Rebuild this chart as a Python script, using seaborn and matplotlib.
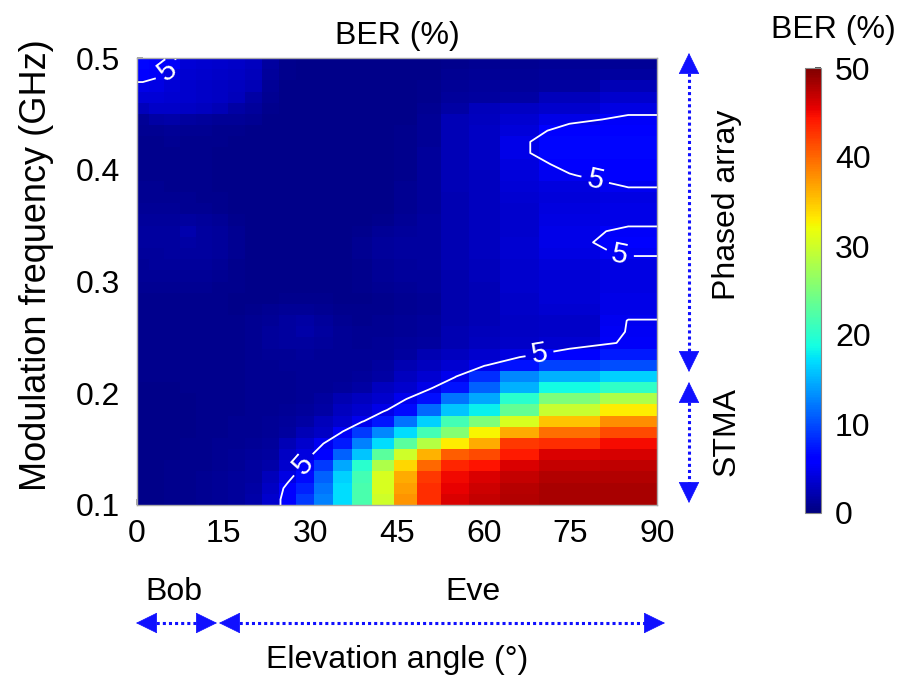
import numpy as np
import matplotlib
matplotlib.use("Agg")
import matplotlib.pyplot as plt
import seaborn as sns
from matplotlib.patches import FancyArrowPatch
from matplotlib.lines import Line2D

sns.set_theme(style="white")
plt.rcParams['font.family'] = ['Liberation Sans', 'DejaVu Sans']
plt.rcParams['text.color'] = 'black'

# ---------------- data ----------------
# elevation-angle bin edges (deg) and modulation-frequency bin edges (GHz)
elev_edges = [0, 2.01, 4.73, 7.47, 10.22, 13.00, 15.81, 18.66, 21.56, 24.52, 27.55,
              30.66, 33.88, 37.23, 40.73, 44.43, 48.38, 52.65, 57.41, 62.87, 69.64,
              80.06, 90]
freq_edges = np.round(np.linspace(0.10, 0.50, 41), 2)

# BER (%) rows listed from top (0.49-0.50 GHz) to bottom (0.10-0.11 GHz)
ber_top_to_bottom = [
    [6.5, 6.0, 5.3, 3.8, 3.6, 3.4, 3.2, 2.8, 1.5, 0.7, 0.55, 0.55, 0.5, 0.5, 0.45, 0.45, 0.55, 0.7, 0.8, 0.9, 1.0, 1.1],
    [5.75, 5.3, 4.4, 3.6, 3.4, 3.2, 3.0, 2.6, 1.3, 0.65, 0.5, 0.5, 0.45, 0.45, 0.45, 0.45, 0.55, 0.8, 1.0, 1.0, 1.2, 1.5],
    [4.6, 4.3, 3.9, 3.5, 3.3, 3.1, 2.8, 2.4, 1.1, 0.55, 0.5, 0.45, 0.45, 0.45, 0.45, 0.5, 0.65, 1.0, 1.3, 1.3, 1.5, 2.5],
    [3.8, 3.8, 3.6, 3.4, 3.2, 3.0, 2.6, 1.7, 0.9, 0.55, 0.45, 0.45, 0.45, 0.45, 0.45, 0.5, 0.7, 1.3, 1.5, 1.7, 2.6, 3.5],
    [2.6, 3.2, 3.2, 3.0, 2.8, 2.5, 1.7, 1.3, 0.7, 0.5, 0.45, 0.45, 0.4, 0.4, 0.45, 0.55, 0.9, 1.7, 2.6, 3.0, 3.5, 4.4],
    [1.1, 1.7, 1.8, 1.5, 1.3, 1.1, 1.0, 0.8, 0.55, 0.5, 0.45, 0.4, 0.4, 0.4, 0.45, 0.55, 1.0, 2.4, 2.8, 3.6, 4.5, 5.4],
    [0.8, 0.9, 1.0, 0.9, 0.8, 0.7, 0.65, 0.55, 0.5, 0.45, 0.4, 0.4, 0.4, 0.4, 0.45, 0.65, 1.1, 2.5, 3.0, 4.0, 5.8, 6.2],
    [0.7, 0.7, 0.8, 0.7, 0.7, 0.65, 0.55, 0.5, 0.45, 0.45, 0.4, 0.4, 0.4, 0.4, 0.45, 0.65, 1.1, 2.5, 3.0, 4.6, 6.5, 6.6],
    [0.7, 0.7, 0.7, 0.7, 0.65, 0.55, 0.55, 0.5, 0.45, 0.4, 0.4, 0.4, 0.4, 0.4, 0.45, 0.65, 1.2, 2.5, 3.0, 4.6, 6.5, 6.5],
    [0.65, 0.65, 0.7, 0.65, 0.65, 0.55, 0.5, 0.45, 0.45, 0.4, 0.4, 0.4, 0.4, 0.4, 0.5, 0.7, 1.2, 2.5, 3.0, 4.2, 5.5, 6.2],
    [0.7, 0.7, 0.7, 0.65, 0.65, 0.55, 0.5, 0.45, 0.45, 0.4, 0.4, 0.4, 0.4, 0.45, 0.5, 0.7, 1.2, 2.4, 2.9, 4.0, 4.9, 5.8],
    [0.8, 0.8, 0.7, 0.7, 0.65, 0.55, 0.5, 0.45, 0.45, 0.4, 0.4, 0.4, 0.45, 0.45, 0.55, 0.8, 1.3, 2.4, 2.9, 3.8, 4.2, 5.05],
    [0.9, 0.9, 0.8, 0.8, 0.7, 0.65, 0.55, 0.5, 0.45, 0.45, 0.4, 0.4, 0.45, 0.45, 0.55, 0.8, 1.3, 2.3, 2.8, 3.6, 4.1, 4.4],
    [1.0, 1.0, 1.0, 0.9, 0.8, 0.7, 0.55, 0.5, 0.45, 0.45, 0.4, 0.45, 0.45, 0.5, 0.55, 0.8, 1.3, 2.3, 2.8, 3.5, 4.2, 4.5],
    [1.3, 1.3, 1.3, 1.4, 1.3, 1.1, 0.7, 0.55, 0.5, 0.45, 0.45, 0.45, 0.5, 0.55, 0.7, 1.0, 1.4, 2.3, 2.8, 3.5, 4.3, 4.6],
    [1.4, 1.4, 1.5, 2.0, 1.5, 1.3, 0.8, 0.55, 0.5, 0.45, 0.45, 0.45, 0.5, 0.7, 1.0, 1.3, 1.5, 2.3, 2.8, 3.5, 4.5, 5.3],
    [1.4, 1.4, 1.5, 1.7, 1.5, 1.3, 0.8, 0.55, 0.5, 0.45, 0.45, 0.45, 0.5, 0.8, 1.2, 1.4, 1.5, 2.3, 2.8, 3.6, 4.6, 5.6],
    [1.3, 1.3, 1.4, 1.5, 1.4, 1.2, 0.8, 0.55, 0.5, 0.45, 0.45, 0.45, 0.5, 0.8, 1.2, 1.4, 1.5, 2.3, 2.8, 3.6, 4.4, 5.2],
    [1.1, 1.2, 1.3, 1.3, 1.3, 1.1, 0.7, 0.55, 0.5, 0.45, 0.45, 0.45, 0.5, 0.7, 1.1, 1.3, 1.4, 2.2, 2.7, 3.5, 4.0, 4.3],
    [1.0, 1.0, 1.1, 1.1, 1.0, 0.9, 0.65, 0.55, 0.5, 0.45, 0.45, 0.45, 0.5, 0.65, 1.0, 1.2, 1.3, 2.1, 2.6, 3.4, 3.9, 4.3],
    [0.8, 0.8, 0.8, 0.8, 0.8, 0.7, 0.65, 0.55, 0.5, 0.5, 0.5, 0.5, 0.55, 0.65, 0.9, 1.1, 1.2, 2.0, 2.5, 3.4, 3.9, 4.4],
    [0.7, 0.7, 0.7, 0.7, 0.7, 0.65, 0.55, 0.55, 0.55, 0.65, 0.7, 0.65, 0.55, 0.55, 0.7, 0.9, 1.1, 2.0, 2.5, 3.3, 3.8, 4.5],
    [0.7, 0.7, 0.7, 0.7, 0.7, 0.65, 0.55, 0.65, 0.8, 1.0, 1.1, 0.9, 0.7, 0.65, 0.7, 0.9, 1.1, 2.0, 2.5, 3.2, 3.6, 4.5],
    [0.7, 0.7, 0.7, 0.7, 0.7, 0.65, 0.65, 0.8, 1.1, 1.4, 1.6, 1.3, 0.9, 0.7, 0.8, 1.0, 1.2, 2.1, 2.5, 3.0, 3.2, 5.05],
    [0.7, 0.7, 0.7, 0.7, 0.7, 0.7, 0.7, 0.9, 1.2, 1.5, 1.9, 1.5, 1.0, 0.8, 0.9, 1.1, 1.3, 2.2, 2.6, 3.0, 3.3, 5.1],
    [0.7, 0.7, 0.7, 0.7, 0.7, 0.7, 0.7, 0.9, 1.2, 1.4, 1.5, 1.3, 1.0, 0.9, 1.0, 1.2, 1.5, 2.3, 2.8, 3.2, 3.6, 5.35],
    [0.65, 0.65, 0.65, 0.65, 0.7, 0.7, 0.7, 0.8, 1.0, 1.1, 1.2, 1.1, 1.0, 1.0, 1.1, 1.4, 2.3, 2.8, 3.5, 4.2, 6.3, 7.5],
    [0.65, 0.65, 0.65, 0.65, 0.7, 0.7, 0.7, 0.8, 0.9, 1.0, 1.0, 1.0, 1.0, 1.1, 1.4, 2.3, 2.8, 3.6, 4.85, 7.2, 9.5, 10.0],
    [0.65, 0.65, 0.65, 0.65, 0.65, 0.7, 0.7, 0.8, 0.9, 0.9, 1.0, 1.0, 1.1, 1.3, 1.7, 2.8, 3.6, 4.85, 8.5, 13.0, 15.0, 16.5],
    [0.55, 0.55, 0.55, 0.65, 0.65, 0.7, 0.7, 0.8, 0.8, 0.9, 1.0, 1.1, 1.3, 1.7, 2.8, 3.5, 4.6, 7.1, 11.0, 15.0, 18.7, 20.5],
    [0.55, 0.55, 0.55, 0.55, 0.65, 0.7, 0.7, 0.8, 0.8, 0.9, 1.1, 1.4, 2.3, 2.8, 3.5, 4.85, 7.0, 12.0, 14.5, 20.0, 25.0, 28.0],
    [0.55, 0.55, 0.55, 0.55, 0.65, 0.7, 0.7, 0.8, 0.9, 1.1, 1.3, 1.7, 2.8, 3.5, 4.6, 6.8, 11.5, 16.0, 18.0, 23.5, 29.5, 33.0],
    [0.55, 0.55, 0.55, 0.55, 0.65, 0.7, 0.8, 0.9, 1.0, 1.3, 1.7, 2.6, 3.5, 4.8, 7.3, 12.0, 16.5, 21.5, 25.0, 30.5, 35.0, 38.0],
    [0.55, 0.55, 0.55, 0.55, 0.65, 0.7, 0.8, 0.9, 1.1, 1.5, 2.5, 3.0, 5.1, 9.0, 13.0, 17.0, 21.5, 25.5, 32.5, 36.5, 39.5, 41.5],
    [0.55, 0.55, 0.55, 0.65, 0.7, 0.8, 0.9, 1.1, 1.3, 2.5, 3.5, 5.0, 7.5, 12.5, 17.0, 23.0, 28.5, 33.0, 36.5, 42.5, 43.0, 44.8],
    [0.55, 0.55, 0.55, 0.65, 0.7, 0.8, 1.0, 1.2, 1.5, 3.0, 4.2, 6.3, 11.0, 16.0, 23.0, 30.0, 36.0, 40.5, 41.5, 44.0, 46.0, 46.2],
    [0.55, 0.55, 0.65, 0.65, 0.7, 0.9, 1.1, 1.4, 1.8, 3.5, 5.3, 9.0, 14.5, 20.0, 28.0, 34.0, 40.0, 43.5, 44.5, 46.0, 47.0, 47.2],
    [0.55, 0.55, 0.65, 0.7, 0.8, 1.0, 1.2, 1.5, 2.6, 4.3, 6.7, 11.0, 16.5, 21.5, 30.5, 36.5, 42.5, 45.0, 46.0, 47.0, 47.7, 47.8],
    [0.55, 0.55, 0.7, 0.7, 0.9, 1.0, 1.3, 1.6, 3.0, 5.6, 8.0, 12.0, 17.0, 22.0, 30.5, 37.0, 43.0, 45.5, 46.5, 47.5, 48.2, 48.2],
    [0.55, 0.55, 0.7, 0.7, 0.9, 1.0, 1.3, 1.8, 3.5, 6.0, 9.0, 12.5, 17.0, 22.0, 30.0, 37.5, 43.0, 46.0, 47.0, 47.7, 48.2, 48.2],
]
ber = np.flipud(np.array(ber_top_to_bottom))

x_ticks = [0, 15, 30, 45, 60, 75, 90]
y_ticks = [0.1, 0.2, 0.3, 0.4, 0.5]
y_tick_labels = ['0.1', '0.2', '0.3', '0.4', '0.5']
cbar_ticks = [0, 10, 20, 30, 40, 50]
contour_levels = [5]
label_spots = [(5.8, 0.485), (79.3, 0.391), (83.6, 0.325), (69.7, 0.234), (28.6, 0.137)]

# ---------------- figure ----------------
W, H = 897, 680
fig = plt.figure(figsize=(W / 100, H / 100), dpi=100)
fig.patch.set_facecolor('white')


def fx(px):
    return px / W


def fy(py):
    return 1 - py / H


FS = 23
ax = fig.add_axes([fx(137), fy(505), 520 / W, 447 / H])
cmap = matplotlib.colormaps['jet']
mesh = ax.pcolormesh(elev_edges, freq_edges, ber, cmap=cmap, vmin=0, vmax=50,
                     shading='flat', edgecolors='none', antialiased=False)

# contour on cell centres, padded to the axes edges
e = np.asarray(elev_edges, float)
f = np.asarray(freq_edges, float)
xc = np.concatenate([[e[0]], (e[:-1] + e[1:]) / 2, [e[-1]]])
yc = np.concatenate([[f[0]], (f[:-1] + f[1:]) / 2, [f[-1]]])
zc = np.pad(ber, 1, mode='edge')
cs = ax.contour(xc, yc, zc, levels=contour_levels, colors='white', linewidths=1.3)
ax.clabel(cs, fmt='%d', fontsize=21, inline=True, inline_spacing=6, manual=label_spots)

ax.set_xlim(0, 90)
ax.set_ylim(0.1, 0.5)
ax.set_xticks(x_ticks)
ax.set_xticklabels([str(t) for t in x_ticks])
ax.set_yticks(y_ticks)
ax.set_yticklabels(y_tick_labels)
ax.tick_params(axis='both', labelsize=FS, direction='in', length=4, color='#999999',
               labelcolor='black', bottom=True, left=True)
ax.tick_params(axis='x', pad=10)
ax.tick_params(axis='y', pad=12)
for s in ax.spines.values():
    s.set_edgecolor('#aaaaaa')
    s.set_linewidth(1.0)

fig.text(fx(37), fy(265), 'Modulation frequency (GHz)', ha='center', va='center',
         fontsize=26, rotation=90, color='black')
fig.text(fx(397), fy(36), 'BER (%)', ha='center', va='center', fontsize=FS, color='black')

# colorbar
cax = fig.add_axes([fx(805), fy(513), 16 / W, 445 / H])
cb = fig.colorbar(mesh, cax=cax, ticks=cbar_ticks)
cb.ax.tick_params(labelsize=FS, direction='in', length=4, color='#444444', pad=10,
                  labelcolor='black')
cb.outline.set_edgecolor('#888888')
cb.outline.set_linewidth(0.8)
fig.text(fx(833), fy(30), 'BER (%)', ha='center', va='center', fontsize=FS, color='black')

# arrows (dotted blue shafts with solid heads)
BLUE = '#1010ff'


def dbl_arrow(p1, p2):
    (x1, y1), (x2, y2) = p1, p2
    v = np.array([x2 - x1, y2 - y1], float)
    u = v / np.hypot(*v)
    line = Line2D([fx(x1 + u[0] * 8), fx(x2 - u[0] * 8)], [fy(y1 + u[1] * 8), fy(y2 - u[1] * 8)],
                  transform=fig.transFigure, color=BLUE, lw=2.2, linestyle=(0, (1, 1)))
    fig.add_artist(line)
    for tip, back in [((x1, y1), (x1 + u[0] * 20, y1 + u[1] * 20)),
                      ((x2, y2), (x2 - u[0] * 20, y2 - u[1] * 20))]:
        a = FancyArrowPatch((fx(back[0]), fy(back[1])), (fx(tip[0]), fy(tip[1])),
                            transform=fig.transFigure,
                            arrowstyle='-|>,head_length=0.55,head_width=0.27',
                            mutation_scale=26, color=BLUE, lw=0.5,
                            shrinkA=0, shrinkB=0)
        fig.add_artist(a)


dbl_arrow((136, 623), (217, 623))
dbl_arrow((219, 623), (665, 623))
dbl_arrow((689, 53), (689, 372))
dbl_arrow((689, 382), (689, 503))

fig.text(fx(174), fy(592), 'Bob', ha='center', va='center', fontsize=FS, color='black')
fig.text(fx(473), fy(592), 'Eve', ha='center', va='center', fontsize=FS, color='black')
fig.text(fx(397), fy(660), 'Elevation angle (°)', ha='center', va='center', fontsize=FS,
         color='black')
fig.text(fx(727), fy(205), 'Phased array', ha='center', va='center', fontsize=FS,
         rotation=90, color='black')
fig.text(fx(727), fy(432), 'STMA', ha='center', va='center', fontsize=FS, rotation=90,
         color='black')

fig.savefig('out.png', dpi=100, facecolor='white')
